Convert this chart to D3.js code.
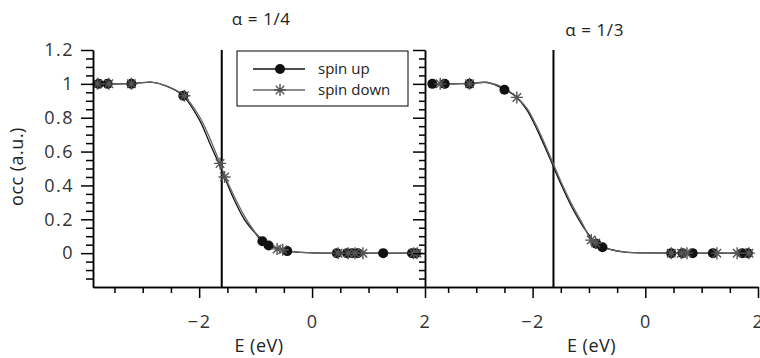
<!DOCTYPE html>
<html lang="en">
<head>
<meta charset="UTF-8">
<title>occ vs E</title>
<script src="https://cdn.jsdelivr.net/npm/d3@7"></script>
<style>
  body { margin: 0; background: #fff; }
  svg { display: block; font-family: "Open Sans", sans-serif; }
  .axis path, .axis line { stroke: #000; stroke-width: 1.5px; }
  .axis text { font-size: 18px; fill: #333; font-family: "Open Sans", sans-serif; letter-spacing: 1.5px; }
  .label { font-size: 18px; fill: #222; letter-spacing: 0.5px; }
  .title { font-size: 17px; fill: #222; letter-spacing: 0.6px; }
  .legend text { font-size: 15px; fill: #222; }
</style>
</head>
<body>
<svg width="760" height="358"></svg>
<script>
// ---- alpha = 1/4 ----
const upE_a   = [-3.78, -3.62, -3.2, -2.28, -0.88, -0.77, -0.44, 0.44, 0.62, 0.71, 0.81, 1.26, 1.77, 1.84];
const upOcc_a = [1, 1, 1, 0.93, 0.07, 0.045, 0.012, 0, 0, 0, 0, 0, 0, 0];
const dnE_a   = [-3.8, -3.6, -3.2, -2.26, -1.63, -1.55, -0.62, -0.52, 0.46, 0.64, 0.76, 0.9, 1.8, 1.86];
const dnOcc_a = [1, 1, 1, 0.93, 0.53, 0.45, 0.025, 0.02, 0, 0, 0, 0, 0, 0];
// fitted curves
const fitUpE_a   = [-3.8, -3.4, -3.1, -2.85, -2.6, -2.3, -2.0, -1.8, -1.6, -1.4, -1.2, -1.0, -0.88, -0.6, -0.4, -0.2, 0, 0.5, 1.86];
const fitUpOcc_a = [1, 1, 1.004, 1.01, 0.99, 0.935, 0.79, 0.64, 0.49, 0.33, 0.2, 0.115, 0.07, 0.025, 0.01, 0.004, 0.001, 0, 0];
const fitDnE_a   = [-3.8, -3.4, -3.1, -2.85, -2.6, -2.3, -2.0, -1.8, -1.63, -1.55, -1.4, -1.2, -1.0, -0.8, -0.62, -0.5, -0.3, 0, 0.5, 1.86];
const fitDnOcc_a = [1, 1, 1.004, 1.01, 0.99, 0.94, 0.81, 0.67, 0.53, 0.46, 0.35, 0.22, 0.12, 0.06, 0.028, 0.018, 0.007, 0.001, 0, 0];
const fermi_a = -1.6;

// ---- alpha = 1/3 ----
const upE_b   = [-3.78, -3.56, -3.12, -2.5, -0.87, -0.76, 0.46, 0.66, 0.84, 1.2, 1.72, 1.82];
const upOcc_b = [1, 1, 1, 0.965, 0.055, 0.035, 0, 0, 0, 0, 0, 0];
const dnE_b   = [-3.64, -3.12, -2.28, -0.96, -0.88, 0.46, 0.64, 0.74, 1.27, 1.63, 1.84];
const dnOcc_b = [1, 1, 0.92, 0.077, 0.06, 0, 0, 0, 0, 0, 0];
const fitUpE_b   = [-3.78, -3.4, -3.1, -2.8, -2.5, -2.3, -2.1, -1.9, -1.7, -1.5, -1.3, -1.1, -0.87, -0.76, -0.6, -0.4, -0.2, 0, 0.5, 1.82];
const fitUpOcc_b = [1, 1, 1.003, 1.008, 0.968, 0.925, 0.845, 0.715, 0.565, 0.41, 0.27, 0.155, 0.055, 0.035, 0.02, 0.008, 0.003, 0.001, 0, 0];
const fitDnE_b   = [-3.78, -3.4, -3.1, -2.8, -2.5, -2.28, -2.1, -1.9, -1.7, -1.5, -1.3, -1.1, -0.96, -0.88, -0.7, -0.5, -0.3, 0, 0.5, 1.84];
const fitDnOcc_b = [1, 1, 1.003, 1.008, 0.975, 0.92, 0.855, 0.73, 0.58, 0.425, 0.285, 0.165, 0.077, 0.06, 0.03, 0.013, 0.005, 0.001, 0, 0];
const fermi_b = -1.63;

// ticks
const xMajor = [-2, 0, 2];
const xMinor = [-3.5, -3, -2.5, -1.5, -1, -0.5, 0.5, 1, 1.5];
const yMajor = [0, 0.2, 0.4, 0.6, 0.8, 1, 1.2];
const yMinor = [-0.15, -0.1, -0.05, 0.05, 0.1, 0.15, 0.25, 0.3, 0.35, 0.45, 0.5, 0.55,
                0.65, 0.7, 0.75, 0.85, 0.9, 0.95, 1.05, 1.1, 1.15];

const svg = d3.select("svg");
const plotTop = 50, plotBottom = 287;
const y = d3.scaleLinear().domain([-0.2, 1.2]).range([plotBottom, plotTop]);
const fmt = d3.format("~g");

const zip = (a, b) => a.map((v, i) => [v, b[i]]);

// 8-armed asterisk marker
const asterisk = {
  draw(ctx, size) {
    const r = Math.sqrt(size) / 2, d = r * Math.SQRT1_2;
    ctx.moveTo(-r, 0); ctx.lineTo(r, 0);
    ctx.moveTo(0, -r); ctx.lineTo(0, r);
    ctx.moveTo(-d, -d); ctx.lineTo(d, d);
    ctx.moveTo(-d, d); ctx.lineTo(d, -d);
  }
};
const starPath = d3.symbol().type(asterisk).size(144)();

const panels = [
  { title: "α = 1/4", titleY: 25, x: d3.scaleLinear().domain([-3.88, 2]).range([93, 425]),
    up: zip(upE_a, upOcc_a), dn: zip(dnE_a, dnOcc_a),
    fitUp: zip(fitUpE_a, fitUpOcc_a), fitDn: zip(fitDnE_a, fitDnOcc_a), fermi: fermi_a },
  { title: "α = 1/3", titleY: 36, x: d3.scaleLinear().domain([-3.91, 2]).range([425, 758]),
    up: zip(upE_b, upOcc_b), dn: zip(dnE_b, dnOcc_b),
    fitUp: zip(fitUpE_b, fitUpOcc_b), fitDn: zip(fitDnE_b, fitDnOcc_b), fermi: fermi_b }
];

panels.forEach(p => {
  const x = p.x;
  const g = svg.append("g");

  // bottom axis: minor then major
  g.append("g").attr("class", "axis").attr("transform", `translate(0,${plotBottom})`)
    .call(d3.axisBottom(x).tickValues(xMinor).tickSize(6).tickSizeOuter(0).tickFormat(""));
  g.append("g").attr("class", "axis").attr("transform", `translate(0,${plotBottom})`)
    .call(d3.axisBottom(x).tickValues(xMajor).tickSize(11).tickSizeOuter(0).tickPadding(17)
      .tickFormat(fmt));

  g.append("text").attr("class", "label")
    .attr("x", d3.mean(x.range())).attr("y", 352)
    .attr("text-anchor", "middle").text("E (eV)");

  g.append("text").attr("class", "title")
    .attr("x", x(-0.9)).attr("y", p.titleY)
    .attr("text-anchor", "middle").text(p.title);

  // fermi level
  g.append("line")
    .attr("x1", x(p.fermi)).attr("x2", x(p.fermi))
    .attr("y1", y(1.2)).attr("y2", y(-0.2))
    .attr("stroke", "#000").attr("stroke-width", 2);

  const line = d3.line().x(d => x(d[0])).y(d => y(d[1])).curve(d3.curveCatmullRom);
  g.append("path").datum(p.fitUp).attr("d", line)
    .attr("fill", "none").attr("stroke", "#111").attr("stroke-width", 1.3);
  g.append("path").datum(p.fitDn).attr("d", line)
    .attr("fill", "none").attr("stroke", "#666").attr("stroke-width", 1.3);

  g.selectAll(".dot").data(p.up).enter().append("circle").attr("class", "dot")
    .attr("cx", d => x(d[0])).attr("cy", d => y(d[1])).attr("r", 5)
    .attr("fill", "#111");
  g.selectAll(".star").data(p.dn).enter().append("path").attr("class", "star")
    .attr("transform", d => `translate(${x(d[0])},${y(d[1])})`)
    .attr("d", starPath).attr("fill", "none")
    .attr("stroke", "#555").attr("stroke-width", 1.4);
});

// left y axis
const xl = panels[0].x;
svg.append("g").attr("class", "axis").attr("transform", `translate(${xl.range()[0]},0)`)
  .call(d3.axisLeft(y).tickValues(yMinor).tickSize(7).tickSizeOuter(0).tickFormat(""));
svg.append("g").attr("class", "axis").attr("transform", `translate(${xl.range()[0]},0)`)
  .call(d3.axisLeft(y).tickValues(yMajor).tickSize(12).tickSizeOuter(0).tickPadding(7)
    .tickFormat(fmt));

// shared spine between panels, ticks pointing left
svg.append("g").attr("class", "axis").attr("transform", `translate(${xl.range()[1]},0)`)
  .call(d3.axisLeft(y).tickValues(yMinor).tickSize(6).tickSizeOuter(0).tickFormat(""));
svg.append("g").attr("class", "axis").attr("transform", `translate(${xl.range()[1]},0)`)
  .call(d3.axisLeft(y).tickValues(yMajor).tickSize(12).tickSizeOuter(0).tickFormat(""));

svg.append("text").attr("class", "label")
  .attr("transform", `translate(23,${(plotTop + plotBottom) / 2 - 2}) rotate(-90)`)
  .attr("text-anchor", "middle").text("occ (a.u.)");

// legend
const lg = svg.append("g").attr("class", "legend").attr("transform", "translate(237,51)");
lg.append("rect").attr("width", 171).attr("height", 55)
  .attr("fill", "#fff").attr("stroke", "#000").attr("stroke-width", 1);
const legendItems = [
  { name: "spin up", color: "#111", marker: "dot" },
  { name: "spin down", color: "#666", marker: "star" }
];
legendItems.forEach((d, i) => {
  const ly = 18 + i * 21;
  lg.append("line").attr("x1", 16).attr("x2", 68).attr("y1", ly).attr("y2", ly)
    .attr("stroke", d.color).attr("stroke-width", 1.3);
  if (d.marker === "dot") {
    lg.append("circle").attr("cx", 43).attr("cy", ly).attr("r", 5).attr("fill", "#111");
  } else {
    lg.append("path").attr("transform", `translate(43,${ly})`).attr("d", starPath)
      .attr("fill", "none").attr("stroke", "#555").attr("stroke-width", 1.4);
  }
  lg.append("text").attr("x", 81).attr("y", ly).attr("dy", "0.35em").text(d.name);
});
</script>
</body>
</html>
